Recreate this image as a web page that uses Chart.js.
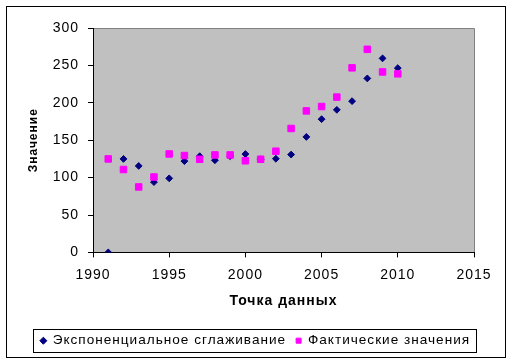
<!DOCTYPE html>
<html><head><meta charset="utf-8">
<script src="https://cdn.jsdelivr.net/npm/chart.js@4/dist/chart.umd.min.js"></script>
<style>html,body{margin:0;padding:0;background:#fff}</style>
</head><body>
<canvas id="c" width="511" height="363" style="display:block;width:511px;height:363px"></canvas>
<script>
const years = [1991,1992,1993,1994,1995,1996,1997,1998,1999,2000,2001,2002,2003,2004,2005,2006,2007,2008,2009,2010];
const smoothing = [0,125,115.6,94,99,122,128.6,123.2,128.6,131.5,124.5,125.2,130.8,154.4,178.1,190.6,202.2,232.6,259.4,246.4];
const actual = [125,110.8,87.5,100.8,131.6,129.5,124.5,130.3,130.3,122.5,124.5,135.3,165.7,189.2,195,207.6,246.7,271.5,241.3,238.7];
const seriesNames = ['Экспоненциальное сглаживание','Фактические значения'];
const xTitle = 'Точка данных';
const yTitle = 'Значение';
const xRange = [1990, 2015, 5];
const yRange = [0, 300, 50];

const FONT = '"Liberation Sans", Arial, sans-serif';

function spacing(chart) { chart.ctx.letterSpacing = '1px'; }

const frame = {
  id: 'frame',
  afterInit: spacing,
  beforeUpdate: spacing,
  beforeLayout: spacing,
  beforeDraw(chart) {
    spacing(chart);
    const {ctx, chartArea: a} = chart;
    ctx.save();
    ctx.fillStyle = '#fff';
    ctx.fillRect(0, 0, chart.width, chart.height);
    ctx.fillStyle = '#C0C0C0';
    ctx.fillRect(a.left, a.top, a.right - a.left, a.bottom - a.top);
    ctx.strokeStyle = '#808080';
    ctx.lineWidth = 1;
    ctx.beginPath();
    ctx.moveTo(Math.round(a.left) + 0.5, Math.round(a.top) + 0.5);
    ctx.lineTo(Math.round(a.right) + 0.5, Math.round(a.top) + 0.5);
    ctx.lineTo(Math.round(a.right) + 0.5, Math.round(a.bottom) + 0.5);
    ctx.stroke();
    ctx.restore();
  },
  afterDraw(chart) {
    const {ctx} = chart;
    ctx.save();
    ctx.strokeStyle = '#000';
    ctx.lineWidth = 1;
    ctx.strokeRect(6.5, 6.5, 499, 351);
    const hb = chart.legend.legendHitBoxes;
    if (hb && hb.length) {
      const l = Math.min(...hb.map(h => h.left)) - 8;
      const r = Math.max(...hb.map(h => h.left + h.width)) + 6;
      const cy = hb[0].top + hb[0].height / 2;
      ctx.strokeRect(Math.round(l) + 0.5, Math.round(cy - 11.5) + 0.5, Math.round(r - l), 23);
    }
    ctx.restore();
  }
};

new Chart(document.getElementById('c'), {
  type: 'scatter',
  data: {
    datasets: [
      {
        label: seriesNames[0],
        data: years.map((y, i) => ({x: y, y: smoothing[i]})),
        pointStyle: 'rectRot',
        pointRadius: 3.4,
        borderWidth: 1,
        backgroundColor: '#000080',
        borderColor: '#000080',
        order: 1
      },
      {
        label: seriesNames[1],
        data: years.map((y, i) => ({x: y, y: actual[i]})),
        pointStyle: 'rect',
        pointRadius: 4.6,
        borderWidth: 1,
        backgroundColor: '#FF00FF',
        borderColor: '#FF00FF',
        order: 0
      }
    ]
  },
  options: {
    responsive: false,
    animation: false,
    events: [],
    layout: { padding: { top: 28, right: 0, left: 0, bottom: 5.5 } },
    plugins: {
      tooltip: { enabled: false },
      legend: {
        position: 'bottom',
        labels: {
          usePointStyle: true,
          boxWidth: 5,
          boxHeight: 5,
          padding: 10,
          color: '#000',
          font: { family: FONT, size: 13.6 },
          sort: (a, b) => a.datasetIndex - b.datasetIndex
        }
      }
    },
    scales: {
      x: {
        type: 'linear',
        min: xRange[0], max: xRange[1],
        afterFit: s => { s.height = 71.5; },
        ticks: { stepSize: xRange[2], color: '#000', padding: 9, font: { family: FONT, size: 14 }, callback: v => String(v), maxRotation: 0 },
        grid: { drawOnChartArea: false, drawTicks: true, tickLength: 5, color: '#000' },
        border: { display: true, color: '#000', width: 1 },
        title: { display: true, text: xTitle, color: '#000', font: { family: FONT, size: 14, weight: 'bold' }, padding: { top: 0, bottom: 14 } }
      },
      y: {
        type: 'linear',
        position: 'left',
        min: yRange[0], max: yRange[1],
        afterFit: s => { s.width = 93; },
        ticks: { stepSize: yRange[2], color: '#000', padding: 9, font: { family: FONT, size: 14 }, callback: v => String(v) },
        grid: { drawOnChartArea: false, drawTicks: true, tickLength: 5, color: '#000' },
        border: { display: true, color: '#000', width: 1 },
        title: { display: true, text: yTitle, color: '#000', font: { family: FONT, size: 12, weight: 'bold' }, padding: { top: 26, bottom: 0 } }
      },
      ySpacer: {
        type: 'linear',
        position: 'right',
        display: true,
        min: yRange[0], max: yRange[1],
        afterFit: s => { s.width = 37; },
        ticks: { display: false },
        grid: { display: false, drawTicks: false },
        border: { display: false },
        title: { display: false }
      }
    }
  },
  plugins: [frame]
});
</script>
</body></html>
